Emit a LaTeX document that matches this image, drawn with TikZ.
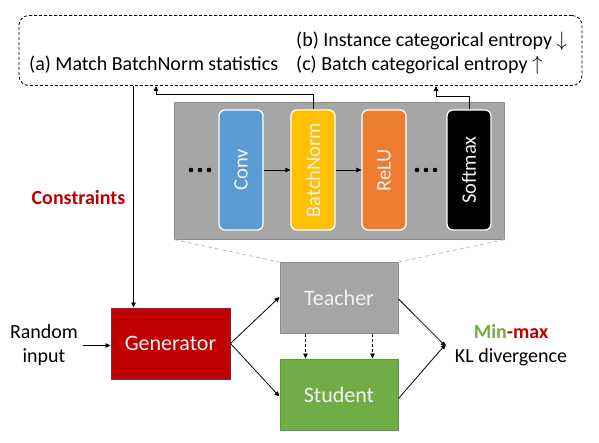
\documentclass[tikz,border=0pt]{standalone}
\usepackage{fontspec}
\usepackage{graphicx}
\setmainfont{Carlito}
\usetikzlibrary{arrows.meta,calc}
\definecolor{genred}{HTML}{C00000}
\definecolor{genborder}{HTML}{7A2A45}
\definecolor{teachgray}{HTML}{A5A5A5}
\definecolor{teachborder}{HTML}{8C8C8C}
\definecolor{studgreen}{HTML}{70AD47}
\definecolor{studborder}{HTML}{5E9A3C}
\definecolor{panelgray}{HTML}{A6A6A6}
\definecolor{panelborder}{HTML}{8F8F8F}
\definecolor{convblue}{HTML}{5B9BD5}
\definecolor{bnyellow}{HTML}{FFC000}
\definecolor{reluorange}{HTML}{ED7D31}
\definecolor{projgray}{HTML}{BFBFBF}
\definecolor{labelwhite}{HTML}{F2F2F2}
\begin{document}
\begin{tikzpicture}[x=1pt,y=-1pt,
  arr/.style={-{Triangle[length=5pt,width=4.5pt]}, line width=0.8pt},
  darr/.style={arr, dash pattern=on 3pt off 2pt},
  blk/.style={draw=white, line width=1.3pt, rounded corners=6pt, minimum width=44pt,
    minimum height=120pt, inner sep=0pt, text=labelwhite, font=\fontsize{20.5}{24}\selectfont},
  bigbox/.style={line width=1pt, minimum width=118pt, minimum height=71pt, inner sep=0pt,
    text=labelwhite, font=\fontsize{22}{26}\selectfont},
  lbl/.style={font=\fontsize{20}{24}\selectfont, inner sep=0pt},
  projl/.style={draw=projgray, line width=0.8pt, dash pattern=on 4pt off 3pt}]
\useasboundingbox (0,0) rectangle (599,442);

% constraints box
\node[draw, line width=0.8pt, dash pattern=on 3pt off 2pt, rounded corners=10pt,
  minimum width=563pt, minimum height=70pt, inner sep=0pt] (cons) at (300.5,50.5) {};
\node[lbl, anchor=base west] (ta) at (29,70) {(a) Match BatchNorm statistics};
\node[lbl, anchor=base west] (tb) at (296,46) {(b) Instance categorical entropy \smash{$\downarrow$}};
\node[lbl, anchor=base west] (tc) at (296,70) {(c) Batch categorical entropy \smash{$\uparrow$}};

\node[lbl, text=genred, font=\fontsize{20}{24}\selectfont\bfseries] (cst) at (78.5,198) {Constraints};

% network panel
\node[fill=panelgray, draw=panelborder, line width=0.6pt, minimum width=330pt,
  minimum height=137pt, inner sep=0pt, anchor=north west] (panel) at (174,102) {};
\node[blk, fill=convblue] (conv) at (241,170) {\rotatebox{90}{Conv}};
\node[blk, fill=bnyellow] (bn) at (313,170) {\rotatebox{90}{BatchNorm}};
\node[blk, fill=reluorange] (relu) at (384,170) {\rotatebox{90}{ReLU}};
\node[blk, fill=black] (soft) at (469,170) {\rotatebox{90}{Softmax}};
\foreach \x in {191,200,209,417,426,435} \fill (\x,170) circle (2.3pt);
\draw[arr] (conv.east) -- (bn.west);
\draw[arr] (bn.east) -- (relu.west);

% main boxes
\node[bigbox, fill=teachgray, draw=teachborder] (teacher) at (339,298) {Teacher};
\node[bigbox, fill=studgreen, draw=studborder] (student) at (339,394.5) {Student};
\node[bigbox, fill=genred, draw=genborder, minimum width=119pt] (gen) at (170.5,343.5) {Generator};

\draw[projl] (panel.south west) -- (teacher.north west);
\draw[projl] (panel.south east) -- (teacher.north east);

\node[lbl, align=center] (rand) at (44,345.5) {Random\\input};
\node[lbl, align=center] (kl) at (511,345.5) {{\bfseries\color{studgreen}Min}{\bfseries\color{genred}-max}\\KL divergence};

% connectors
\coordinate (cdown) at ([xshift=23pt]gen.north west);
\draw[arr] (cons.south -| cdown) -- (cdown);
\coordinate (abn) at (156,94);
\draw[arr] (bn.north) -- (bn.north |- abn) -- (abn) -- (abn |- cons.south);
\coordinate (asm) at (436,96);
\draw[arr] (soft.north) -- (soft.north |- asm) -- (asm) -- (asm |- cons.south);

\draw[arr] ([xshift=5pt]rand.east) -- (rand.east -| gen.west);
\draw[arr] (gen.east) -- ([yshift=1pt]teacher.west);
\draw[arr] (gen.east) -- ([yshift=-2pt]student.west);
\coordinate (t1) at ([xshift=26pt]teacher.south west);
\coordinate (t2) at ([xshift=-26pt]teacher.south east);
\draw[darr] (t1) -- (t1 |- student.north);
\draw[darr] (t2) -- (t2 |- student.north);
\coordinate (kin) at ([xshift=-9pt]kl.west);
\draw[arr] ([yshift=-1pt]teacher.east) -- ([yshift=-1pt]kin);
\draw[arr] ([yshift=-4pt]student.east) -- ([yshift=1.5pt]kin);
\end{tikzpicture}
\end{document}
